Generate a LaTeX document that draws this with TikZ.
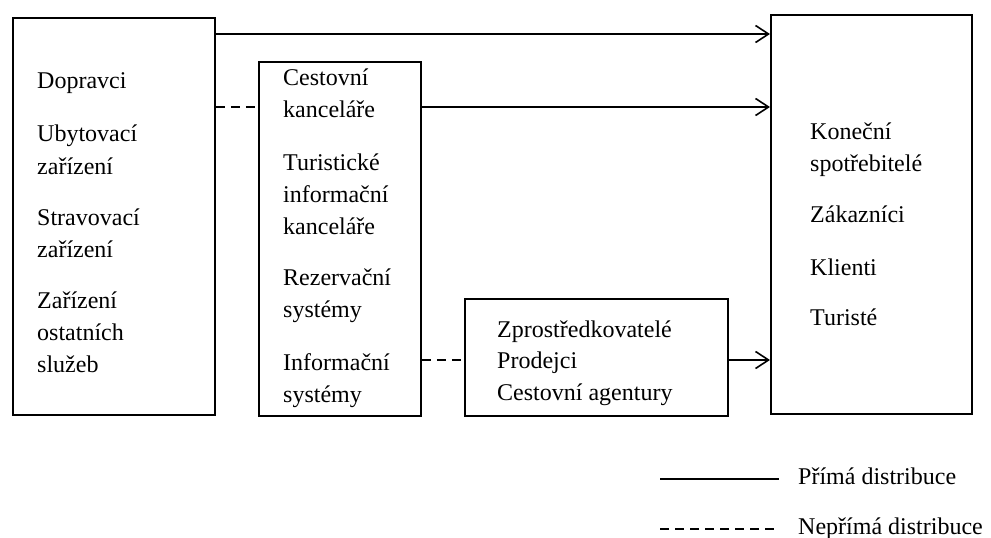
\documentclass[tikz,border=0pt]{standalone}
\usepackage{fontspec}
\setmainfont{Liberation Serif}
\usetikzlibrary{arrows.meta}
\begin{document}
\begin{tikzpicture}[x=1pt,y=-1pt,
  box/.style={draw,line width=1.8pt,inner sep=0pt,anchor=north west},
  txt/.style={anchor=base west,inner sep=0pt,font=\fontsize{24}{32}\selectfont},
  conn/.style={line width=1.8pt},
  arr/.style={conn,-{Straight Barb[length=13pt,width=17pt,line width=1.6pt]}},
  dsh/.style={conn,dash pattern=on 9pt off 6pt}]
\useasboundingbox (0,0) rectangle (991,538);
% boxes
\node[box,minimum width=202pt,minimum height=397pt] (L) at (12,17) {};
\node[box,minimum width=162pt,minimum height=354pt] (M) at (258,61) {};
\node[box,minimum width=201pt,minimum height=399pt] (R) at (770,14) {};
\node[box,minimum width=263pt,minimum height=117pt] (B) at (464,298) {};
% left texts
\node[txt] (l1) at (37,88) {Dopravci};
\node[txt] (l2) at (37,141) {Ubytovací};
\node[txt] (l3) at (37,174) {zařízení};
\node[txt] (l4) at (37,225) {Stravovací};
\node[txt] (l5) at (37,257) {zařízení};
\node[txt] (l6) at (37,308) {Zařízení};
\node[txt] (l7) at (37,340) {ostatních};
\node[txt] (l8) at (37,372) {služeb};
% middle texts
\node[txt] (m1) at (283,85) {Cestovní};
\node[txt] (m2) at (283,117) {kanceláře};
\node[txt] (m3) at (283,170) {Turistické};
\node[txt] (m4) at (283,202) {informační};
\node[txt] (m5) at (283,234) {kanceláře};
\node[txt] (m6) at (283,285) {Rezervační};
\node[txt] (m7) at (283,317) {systémy};
\node[txt] (m8) at (283,370) {Informační};
\node[txt] (m9) at (283,402) {systémy};
% right texts
\node[txt] (r1) at (810,139) {Koneční};
\node[txt] (r2) at (810,171) {spotřebitelé};
\node[txt] (r3) at (810,222) {Zákazníci};
\node[txt] (r4) at (810,275) {Klienti};
\node[txt] (r5) at (810,325) {Turisté};
% bottom box texts
\node[txt] (b1) at (497,337) {Zprostředkovatelé};
\node[txt] (b2) at (497,368) {Prodejci};
\node[txt] (b3) at (497,400) {Cestovní agentury};
% connector levels
\coordinate (y1) at (0,34);
\coordinate (y2) at (0,107);
\coordinate (y3) at (0,360);
\draw[arr] (L.east |- y1) -- (R.west |- y1);
\draw[dsh] (L.east |- y2) -- (M.west |- y2);
\draw[arr] (M.east |- y2) -- (R.west |- y2);
\draw[dsh] (M.east |- y3) -- (B.west |- y3);
\draw[arr] (B.east |- y3) -- (R.west |- y3);
% legend
\coordinate (s1) at (660,479);
\coordinate (s2) at (779,479);
\coordinate (d1) at (660,529);
\coordinate (d2) at (779,529);
\draw[conn] (s1) -- (s2);
\draw[dsh] (d1) -- (d2);
\node[txt] (lg1) at (798,484) {Přímá distribuce};
\node[txt] (lg2) at (798,534) {Nepřímá distribuce};
\end{tikzpicture}
\end{document}
